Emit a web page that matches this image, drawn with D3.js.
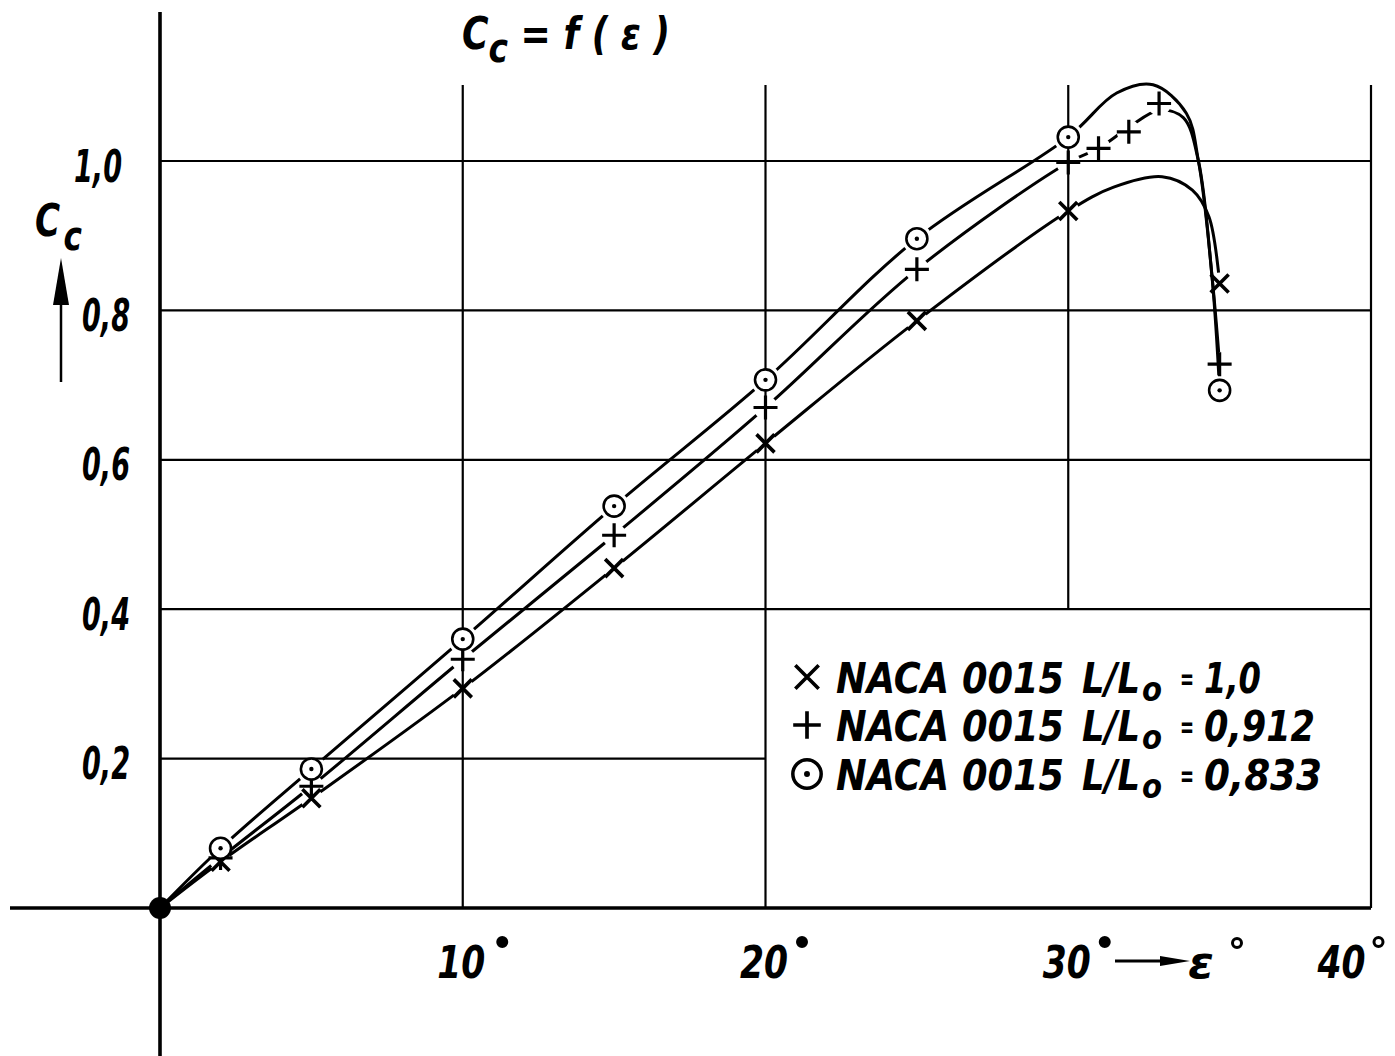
<!DOCTYPE html>
<html><head><meta charset="utf-8">
<script src="https://cdn.jsdelivr.net/npm/d3@7"></script>
<style>
body{margin:0;background:#fff}
svg{display:block;background:#fff}
text{font-family:"Liberation Sans Narrow","DejaVu Sans Condensed","Liberation Sans",sans-serif;font-weight:bold;font-style:italic;fill:#000}
</style>
</head><body>
<svg id="chart" width="1395" height="1056"></svg>
<script>
// ---------- data ----------
const epsTicks = [10, 20, 30, 40];
const epsTickLabels = ["10", "20", "30", "40"];
const ccTicks = [0.2, 0.4, 0.6, 0.8, 1.0];
const ccTickLabels = ["0,2", "0,4", "0,6", "0,8", "1,0"];

const seriesNames = ["NACA 0015", "NACA 0015", "NACA 0015"];
const seriesRatios = ["1,0", "0,912", "0,833"];

// measured points (eps in degrees, Cc)
const epsA = [2, 5, 10, 15, 20, 25, 30, 35];
const ccA  = [0.062, 0.147, 0.294, 0.455, 0.622, 0.786, 0.933, 0.836];
const epsB = [2, 5, 10, 15, 20, 25, 30, 31, 32, 33, 35];
const ccB  = [0.067, 0.163, 0.333, 0.499, 0.670, 0.855, 0.998, 1.017, 1.039, 1.077, 0.728];
const epsC = [2, 5, 10, 15, 20, 25, 30, 35];
const ccC  = [0.080, 0.186, 0.360, 0.538, 0.707, 0.896, 1.032, 0.693];

// faired curves
const curveEpsA = [0, 2, 5, 10, 15, 20, 25, 30, 31.5, 33.1, 34.1, 34.65, 35];
const curveCcA  = [0, 0.062, 0.147, 0.294, 0.455, 0.622, 0.786, 0.933, 0.965, 0.979, 0.961, 0.925, 0.836];
const curveEpsB = [0, 2, 5, 10, 15, 20, 25, 30, 31, 32, 33, 33.8, 34.3, 34.75, 35];
const curveCcB  = [0, 0.067, 0.163, 0.333, 0.499, 0.670, 0.855, 0.998, 1.017, 1.045, 1.068, 1.058, 1.0, 0.845, 0.728];
const curveEpsC = [0, 2, 5, 10, 15, 20, 25, 30, 31.6, 32.8, 33.9, 34.3, 34.75, 35];
const curveCcC  = [0, 0.080, 0.186, 0.360, 0.538, 0.707, 0.896, 1.032, 1.091, 1.102, 1.064, 1.0, 0.845, 0.693];

// ---------- setup ----------
const svg = d3.select("#chart");
const x = d3.scaleLinear().domain([0, 40]).range([160, 1371]);
const y = d3.scaleLinear().domain([0, 1]).range([908, 161]);
const gridTop = 85;

// grid
const g = svg.append("g").attr("stroke", "#000").attr("stroke-width", 2.2).attr("fill", "none");
epsTicks.forEach(v => {
  const bottom = (v === 30) ? y(0.4) : y(0);
  g.append("line").attr("x1", x(v)).attr("x2", x(v)).attr("y1", gridTop).attr("y2", bottom);
});
ccTicks.forEach(v => {
  const right = (v === 0.2) ? x(20) : x(40);
  g.append("line").attr("x1", x(0)).attr("x2", right).attr("y1", y(v)).attr("y2", y(v));
});

// main axes
svg.append("line").attr("x1", 10).attr("x2", x(40)).attr("y1", y(0)).attr("y2", y(0))
  .attr("stroke", "#000").attr("stroke-width", 3.6);
svg.append("line").attr("x1", x(0)).attr("x2", x(0)).attr("y1", 12).attr("y2", 1056)
  .attr("stroke", "#000").attr("stroke-width", 3.6);

// y tick labels via axis
const yAx = svg.append("g").attr("transform", `translate(${x(0)},0)`)
  .call(d3.axisLeft(y).tickValues(ccTicks).tickFormat((d, i) => ccTickLabels[i]).tickSize(0).tickPadding(30));
yAx.select(".domain").remove();
yAx.selectAll("text")
  .attr("font-size", 44).attr("font-family", null)
  .attr("dy", null).attr("y", 20)
  .attr("x", (d, i) => i === 4 ? -38 : -30)
  .attr("textLength", 48).attr("lengthAdjust", "spacingAndGlyphs");

// x tick labels via axis
const xAx = svg.append("g").attr("transform", `translate(0,${y(0)})`)
  .call(d3.axisBottom(x).tickValues(epsTicks).tickFormat((d, i) => epsTickLabels[i]).tickSize(0).tickPadding(0));
xAx.select(".domain").remove();
xAx.selectAll("text")
  .attr("font-size", 44).attr("font-family", null)
  .attr("dy", null).attr("y", 70)
  .attr("x", (d, i) => i === 3 ? -30 : -2)
  .attr("textLength", 48).attr("lengthAdjust", "spacingAndGlyphs");
xAx.selectAll(".tick").append("circle")
  .attr("cx", (d, i) => i === 3 ? 7 : (i === 0 ? 39 : 36))
  .attr("cy", 34).attr("r", 4.5)
  .attr("fill", (d, i) => i === 3 ? "#fff" : "#000")
  .attr("stroke", "#000").attr("stroke-width", 3);

// x axis label arrow + epsilon
svg.append("line").attr("x1", 1115).attr("x2", 1165).attr("y1", 961).attr("y2", 961).attr("stroke", "#000").attr("stroke-width", 3);
svg.append("path").attr("d", "M1160,956 L1190,961 L1160,966 Z").attr("fill", "#000");
svg.append("text").attr("x", 1188).attr("y", 978).attr("font-size", 44)
  .attr("textLength", 26).attr("lengthAdjust", "spacingAndGlyphs").text("ε");
svg.append("circle").attr("cx", 1237).attr("cy", 943).attr("r", 4.5).attr("fill", "#fff").attr("stroke", "#000").attr("stroke-width", 3);

// y axis label (single text with subscript)
const yl = svg.append("text").attr("x", 35).attr("y", 236).attr("font-size", 44)
  .attr("textLength", 47).attr("lengthAdjust", "spacingAndGlyphs");
yl.append("tspan").text("C");
yl.append("tspan").attr("dx", 4).attr("dy", 14).attr("font-size", 40).text("c");
svg.append("line").attr("x1", 61).attr("x2", 61).attr("y1", 300).attr("y2", 382).attr("stroke", "#000").attr("stroke-width", 2.5);
svg.append("path").attr("d", "M61,258 L69,305 L53,305 Z").attr("fill", "#000");

// title (single text with subscript)
const tl = svg.append("text").attr("x", 462).attr("y", 49).attr("font-size", 44)
  .attr("textLength", 208).attr("lengthAdjust", "spacingAndGlyphs");
tl.append("tspan").text("C");
tl.append("tspan").attr("dy", 13).attr("font-size", 40).text("c");
tl.append("tspan").attr("dy", -13).text(" = f ( ε )");

// ---------- curves ----------
const line = d3.line().x(d => x(d[0])).y(d => y(d[1])).curve(d3.curveCatmullRom.alpha(0.5));
const defs = svg.append("defs");
const series = [
  {id: "A", ce: curveEpsA, cc: curveCcA, pe: epsA, pc: ccA, type: "x", gap: 11},
  {id: "B", ce: curveEpsB, cc: curveCcB, pe: epsB, pc: ccB, type: "plus", gap: 12},
  {id: "C", ce: curveEpsC, cc: curveCcC, pe: epsC, pc: ccC, type: "circle", gap: 15}
];
series.forEach(s => {
  const m = defs.append("mask").attr("id", "m" + s.id).attr("maskUnits", "userSpaceOnUse")
    .attr("x", 0).attr("y", 0).attr("width", 1395).attr("height", 1056);
  m.append("rect").attr("width", 1395).attr("height", 1056).attr("fill", "#fff");
  s.pe.forEach((e, i) => m.append("circle").attr("cx", x(e)).attr("cy", y(s.pc[i])).attr("r", s.gap).attr("fill", "#000"));
  svg.append("path").datum(s.ce.map((e, i) => [e, s.cc[i]]))
    .attr("d", line).attr("fill", "none").attr("stroke", "#000").attr("stroke-width", 3)
    .attr("mask", `url(#m${s.id})`);
});

function drawMarker(sel, type, cx, cy, k) {
  const gg = sel.append("g").attr("transform", `translate(${cx},${cy})`).attr("stroke", "#000").attr("fill", "none");
  if (type === "x") {
    const a = 9 * k;
    gg.append("path").attr("d", `M${-a},${-a}L${a},${a}M${-a},${a}L${a},${-a}`).attr("stroke-width", 3.6);
  } else if (type === "plus") {
    const a = 12 * k;
    gg.append("path").attr("d", `M${-a},0L${a},0M0,${-a}L0,${a}`).attr("stroke-width", 3.2 * k);
  } else {
    gg.append("circle").attr("r", 10.5 * k).attr("stroke-width", 2.6 * k).attr("fill", "#fff");
    gg.append("circle").attr("r", 2.2 * k).attr("fill", "#000").attr("stroke", "none");
  }
}
series.forEach(s => {
  s.pe.forEach((e, i) => drawMarker(svg, s.type, x(e), y(s.pc[i]), 1));
});

// origin dot
svg.append("circle").attr("cx", x(0)).attr("cy", y(0)).attr("r", 11).attr("fill", "#000");

// ---------- legend ----------
const legendRows = [
  {type: "x", base: 693},
  {type: "plus", base: 741},
  {type: "circle", base: 790}
];
legendRows.forEach((r, i) => {
  drawMarker(svg, r.type, 807, r.base - 16, r.type === "circle" ? 1.35 : (r.type === "plus" ? 1.15 : 1.3));
  svg.append("text").attr("x", 836).attr("y", r.base).attr("font-size", 42)
    .attr("textLength", 228).attr("lengthAdjust", "spacingAndGlyphs").text(seriesNames[i]);
  svg.append("text").attr("x", 1082).attr("y", r.base).attr("font-size", 42)
    .attr("textLength", 58).attr("lengthAdjust", "spacingAndGlyphs").text("L/L");
  svg.append("text").attr("x", 1142).attr("y", r.base + 8).attr("font-size", 34)
    .attr("textLength", 20).attr("lengthAdjust", "spacingAndGlyphs").text("o");
  svg.append("text").attr("x", 1180).attr("y", r.base - 4).attr("font-size", 30)
    .attr("textLength", 14).attr("lengthAdjust", "spacingAndGlyphs").text("=");
  const w = [57, 111, 118][i];
  svg.append("text").attr("x", 1204).attr("y", r.base).attr("font-size", 42)
    .attr("textLength", w).attr("lengthAdjust", "spacingAndGlyphs").text(seriesRatios[i]);
});
</script>
</body></html>
